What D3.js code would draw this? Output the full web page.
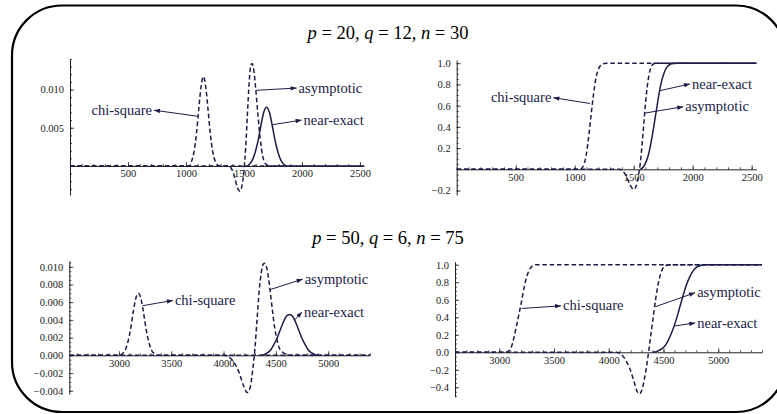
<!DOCTYPE html>
<html>
<head>
<meta charset="utf-8">
<script src="https://cdn.jsdelivr.net/npm/d3@7"></script>
<style>
html, body { margin: 0; padding: 0; background: #fff; overflow: hidden; }
svg { display: block; }
svg text { font-family: "Liberation Serif", "DejaVu Serif", "Times New Roman", Times, serif; }
</style>
</head>
<body>
<script>
// ---- p = 20, q = 12, n = 30 : densities (x, density)
var p20DensChi = [[0,0],[1030,0],[1050,0.0007],[1070,0.0019],[1090,0.0042],[1110,0.0074],[1130,0.0104],[1150,0.0117],[1170,0.0104],[1190,0.0074],[1210,0.0042],[1230,0.0019],[1250,0.0007],[1270,0.0002],[1290,0],[2535,0]];
var p20DensAsy = [[0,0],[1360,0],[1390,-0.0003],[1420,-0.0015],[1445,-0.0029],[1465,-0.0033],[1485,-0.0024],[1500,-0.0006],[1515,0.0025],[1530,0.0068],[1545,0.0110],[1560,0.0132],[1570,0.0134],[1585,0.0125],[1600,0.0103],[1620,0.0068],[1640,0.0036],[1660,0.0014],[1680,0.0004],[1710,0],[2535,0]];
var p20DensNear = [[1530,0],[1545,0.0002],[1570,0.0007],[1595,0.0017],[1620,0.0032],[1645,0.0052],[1670,0.0070],[1694,0.0077],[1720,0.0070],[1745,0.0052],[1770,0.0032],[1795,0.0017],[1820,0.0007],[1845,0.0002],[1870,0]];

// ---- p = 20, q = 12, n = 30 : distribution functions
var p20CdfChi = [[0,0],[1040,0],[1060,0.01],[1080,0.05],[1100,0.15],[1120,0.32],[1140,0.52],[1160,0.71],[1180,0.86],[1200,0.94],[1220,0.98],[1240,0.995],[1270,1],[2540,1]];
var p20CdfAsy = [[0,0],[1380,0],[1410,-0.02],[1440,-0.07],[1470,-0.15],[1500,-0.19],[1520,-0.16],[1540,-0.06],[1555,0.05],[1570,0.22],[1585,0.42],[1600,0.62],[1615,0.78],[1630,0.89],[1650,0.97],[1670,0.995],[1690,1],[2540,1]];
var p20CdfNear = [[1555,0],[1580,0.02],[1605,0.07],[1630,0.16],[1650,0.27],[1670,0.40],[1690,0.54],[1710,0.68],[1730,0.80],[1755,0.90],[1780,0.96],[1810,0.99],[1840,0.998],[1870,1],[2540,1]];

// ---- p = 50, q = 6, n = 75 : densities
var p50DensChi = [[2525,0],[3000,0],[3035,0.0002],[3060,0.0006],[3085,0.0015],[3110,0.0029],[3135,0.0048],[3160,0.0064],[3185,0.0070],[3210,0.0064],[3235,0.0048],[3260,0.0029],[3285,0.0015],[3310,0.0006],[3335,0.0002],[3370,0],[5400,0]];
var p50DensAsy = [[2525,0],[4000,0],[4050,-0.0002],[4100,-0.0008],[4150,-0.0020],[4190,-0.0034],[4225,-0.0042],[4255,-0.0036],[4280,-0.0015],[4300,0.0008],[4320,0.0040],[4340,0.0072],[4360,0.0093],[4380,0.0103],[4395,0.0104],[4410,0.0100],[4430,0.0087],[4450,0.0068],[4470,0.0048],[4490,0.0030],[4510,0.0018],[4530,0.0009],[4560,0.0004],[4600,0.0001],[4640,0],[5400,0]];
var p50DensNear = [[4360,0],[4390,0.0001],[4420,0.0003],[4450,0.0006],[4480,0.0012],[4510,0.0019],[4540,0.0028],[4570,0.0037],[4600,0.0044],[4630,0.0046],[4660,0.0044],[4690,0.0037],[4720,0.0028],[4750,0.0019],[4780,0.0012],[4810,0.0006],[4840,0.0003],[4870,0.0001],[4900,0]];

// ---- p = 50, q = 6, n = 75 : distribution functions
var p50CdfChi = [[2595,0],[3060,0],[3090,0.02],[3110,0.06],[3130,0.15],[3150,0.26],[3170,0.38],[3190,0.5],[3210,0.63],[3230,0.76],[3250,0.86],[3270,0.93],[3290,0.97],[3310,0.99],[3340,1],[5400,1]];
var p50CdfAsy = [[2595,0],[4070,0],[4110,-0.02],[4150,-0.08],[4190,-0.18],[4230,-0.33],[4260,-0.45],[4280,-0.475],[4300,-0.44],[4325,-0.31],[4350,-0.12],[4370,0.06],[4390,0.25],[4410,0.44],[4430,0.62],[4450,0.77],[4470,0.88],[4490,0.95],[4515,0.985],[4550,1],[5400,1]];
var p50CdfNear = [[4400,0],[4440,0.01],[4480,0.035],[4520,0.085],[4560,0.18],[4600,0.31],[4630,0.43],[4650,0.52],[4680,0.65],[4710,0.77],[4740,0.86],[4770,0.93],[4800,0.97],[4840,0.99],[4880,0.998],[4920,1],[5400,1]];

// tick values
var p20XTicks = [500, 1000, 1500, 2000, 2500];
var p50XTicks = [3000, 3500, 4000, 4500, 5000];
var p20DensYTicks = [0.005, 0.010];
var p20CdfYTicks = [-0.2, 0.2, 0.4, 0.6, 0.8, 1.0];
var p50DensYTicks = [-0.004, -0.002, 0, 0.002, 0.004, 0.006, 0.008, 0.010];
var p50CdfYTicks = [-0.4, -0.2, 0, 0.2, 0.4, 0.6, 0.8, 1.0];

// labels: [text, curve x, curve y, label x, label y]
var p20DensNotes = [["chi-square",1103,0.0065,724,0.0073],["asymptotic",1605,0.0099,1954,0.0102],["near-exact",1745,0.0054,1997,0.0060]];
var p20CdfNotes = [["chi-square",1130,0.62,819,0.675],["near-exact",1720,0.74,1977,0.805],["asymptotic",1595,0.53,1920,0.59]];
var p50DensNotes = [["chi-square",3225,0.0056,3516,0.0062],["asymptotic",4440,0.0074,4756,0.0086],["near-exact",4680,0.0040,4750,0.0049]];
var p50CdfNotes = [["chi-square",3205,0.50,3564,0.53],["asymptotic",4425,0.52,4789,0.68],["near-exact",4600,0.30,4790,0.335]];

var titles = [
  [["p",1],[" = 20, ",0],["q",1],[" = 12, ",0],["n",1],[" = 30",0]],
  [["p",1],[" = 50, ",0],["q",1],[" = 6, ",0],["n",1],[" = 75",0]]
];

var W = 777, H = 414;
var ink = "#1c1c48";
var serif = "Liberation Serif, DejaVu Serif, Times New Roman, serif";

var svg = d3.select("body").append("svg")
  .attr("width", W)
  .attr("height", H)
  .attr("font-family", serif);

svg.append("defs").append("marker")
  .attr("id", "head")
  .attr("viewBox", "0 0 8 6")
  .attr("refX", 8).attr("refY", 3)
  .attr("markerUnits", "userSpaceOnUse")
  .attr("markerWidth", 7).attr("markerHeight", 4.5)
  .attr("orient", "auto")
  .append("path")
  .attr("d", "M0,0L8,3L0,6Z")
  .attr("fill", ink);

// frame: rounded box whose right side runs past the picture edge
var fx0 = 12, fy0 = 5.5, fx1 = 786, fy1 = 412, fr = 50;
var fp = d3.path();
fp.moveTo(fx0 + fr, fy0);
fp.lineTo(fx1 - fr, fy0);
fp.arcTo(fx1, fy0, fx1, fy0 + fr, fr);
fp.lineTo(fx1, fy1 - fr);
fp.arcTo(fx1, fy1, fx1 - fr, fy1, fr);
fp.lineTo(fx0 + fr, fy1);
fp.arcTo(fx0, fy1, fx0, fy1 - fr, fr);
fp.lineTo(fx0, fy0 + fr);
fp.arcTo(fx0, fy0, fx0 + fr, fy0, fr);
fp.closePath();
svg.append("path")
  .attr("d", fp.toString())
  .attr("fill", "none")
  .attr("stroke", "#000")
  .attr("stroke-width", 2.2);

// titles
[[388, 38.5], [388, 243.5]].forEach(function(pos, i) {
  var t = svg.append("text")
    .attr("x", pos[0]).attr("y", pos[1])
    .attr("text-anchor", "middle")
    .attr("font-family", serif)
    .attr("font-size", 18.5)
    .attr("fill", "#000");
  titles[i].forEach(function(s) {
    t.append("tspan").text(s[0]).attr("font-style", s[1] ? "italic" : "normal");
  });
});

var panels = [
  {xr:[70,364], yr:[195,59], xd:[0,2535], yd:[-0.0038,0.0140], xt:p20XTicks, xm:100, yt:p20DensYTicks, ym:0.001, fmt:".3f",
   lines:[[p20DensChi,1],[p20DensAsy,1],[p20DensNear,0]], notes:p20DensNotes},
  {xr:[456.7,756.4], yr:[195,60], xd:[0,2540], yd:[-0.242,1.03], xt:p20XTicks, xm:100, yt:p20CdfYTicks, ym:0.05, fmt:".1f",
   lines:[[p20CdfChi,1],[p20CdfAsy,1],[p20CdfNear,0]], notes:p20CdfNotes},
  {xr:[69.3,370], yr:[394,261], xd:[2525,5400], yd:[-0.00437,0.01065], xt:p50XTicks, xm:100, yt:p50DensYTicks, ym:0.0005, fmt:".3f",
   lines:[[p50DensChi,1],[p50DensAsy,1],[p50DensNear,0]], notes:p50DensNotes},
  {xr:[455,762], yr:[396.7,261.7], xd:[2595,5400], yd:[-0.507,1.034], xt:p50XTicks, xm:100, yt:p50CdfYTicks, ym:0.05, fmt:".1f",
   lines:[[p50CdfChi,1],[p50CdfAsy,1],[p50CdfNear,0]], notes:p50CdfNotes}
];

function minor(d, step) {
  return d3.range(Math.ceil(d[0] / step - 1e-9) * step, d[1] + 1e-9, step);
}

function tickText(a) {
  a.attr("font-family", serif);
  a.selectAll("text").attr("font-size", 10.5).attr("fill", "#222");
}

panels.forEach(function(p) {
  var x = d3.scaleLinear().domain(p.xd).range(p.xr);
  var y = d3.scaleLinear().domain(p.yd).range(p.yr);
  var g = svg.append("g");

  // minor ticks
  g.append("g")
    .attr("transform", "translate(0," + y(0) + ")")
    .call(d3.axisBottom(x).tickValues(minor(p.xd, p.xm)).tickSizeInner(-2).tickSizeOuter(0).tickFormat(""))
    .call(function(a) { a.select(".domain").remove(); });
  g.append("g")
    .attr("transform", "translate(" + p.xr[0] + ",0)")
    .call(d3.axisLeft(y).tickValues(minor(p.yd, p.ym)).tickSizeInner(-2).tickSizeOuter(0).tickFormat(""))
    .call(function(a) { a.select(".domain").remove(); });

  // major ticks + labels
  g.append("g")
    .attr("transform", "translate(0," + y(0) + ")")
    .call(d3.axisBottom(x).tickValues(p.xt).tickSizeInner(-4).tickSizeOuter(0).tickPadding(4).tickFormat(d3.format("d")))
    .call(tickText);
  g.append("g")
    .attr("transform", "translate(" + p.xr[0] + ",0)")
    .call(d3.axisLeft(y).tickValues(p.yt).tickSizeInner(-4).tickSizeOuter(0).tickPadding(6).tickFormat(d3.format(p.fmt)))
    .call(tickText);

  g.selectAll(".domain").attr("stroke", "#222").attr("stroke-width", 1);
  g.selectAll(".tick line").attr("stroke", "#222").attr("stroke-width", 0.8);

  var line = d3.line()
    .x(function(d) { return x(d[0]); })
    .y(function(d) { return y(d[1]); })
    .curve(d3.curveMonotoneX);

  p.lines.forEach(function(s) {
    g.append("path")
      .attr("d", line(s[0]))
      .attr("fill", "none")
      .attr("stroke", ink)
      .attr("stroke-width", 1.5)
      .attr("stroke-dasharray", s[1] ? "4.5,2.8" : null);
  });

  p.notes.forEach(function(n) {
    var right = n[3] > n[1];
    g.append("line")
      .attr("x1", x(n[1])).attr("y1", y(n[2]))
      .attr("x2", x(n[3])).attr("y2", y(n[4]))
      .attr("stroke", ink)
      .attr("stroke-width", 1)
      .attr("marker-end", "url(#head)");
    g.append("text")
      .attr("x", x(n[3]) + (right ? 2 : -2))
      .attr("y", y(n[4]))
      .attr("dy", "0.32em")
      .attr("text-anchor", right ? "start" : "end")
      .attr("font-family", serif)
      .attr("font-size", 14.5)
      .attr("fill", ink)
      .text(n[0]);
  });
});
</script>
</body>
</html>
